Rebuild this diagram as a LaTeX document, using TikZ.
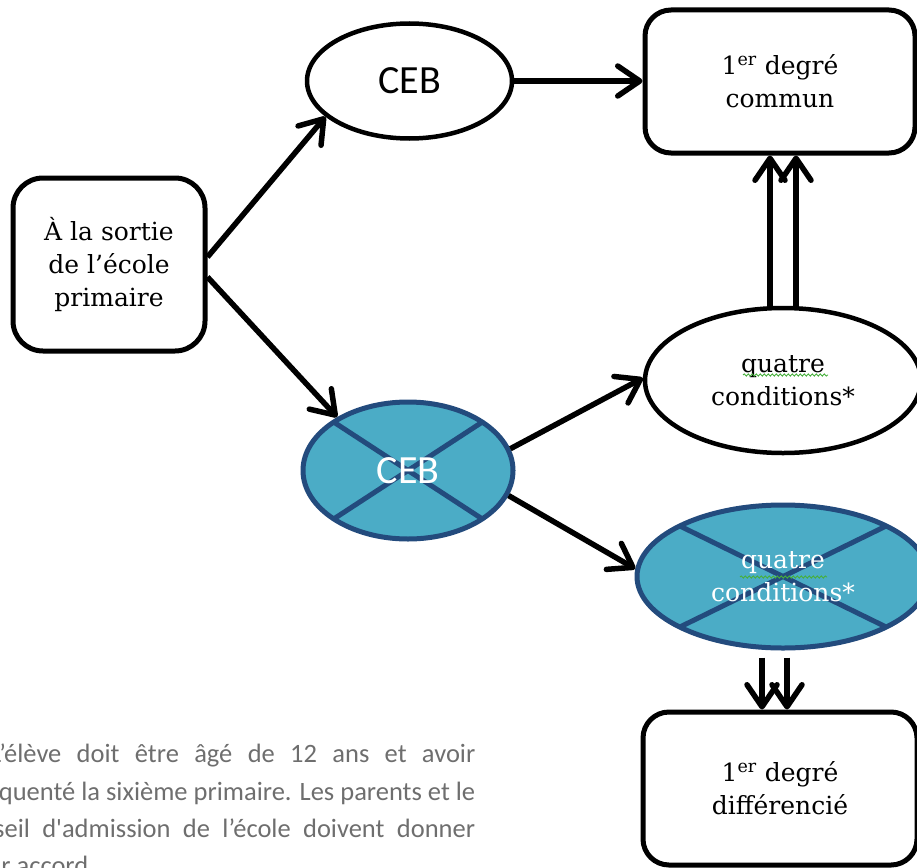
\documentclass[tikz,border=0pt]{standalone}
\usepackage{fontspec}
\setmainfont{DejaVu Serif}
\newfontfamily\carlitofam[Ligatures=TeXOff]{Carlito}
\usetikzlibrary{shapes.geometric,arrows.meta,decorations.pathmorphing,calc}
\definecolor{ebfill}{RGB}{75,172,198}
\definecolor{ebline}{RGB}{35,75,125}
\definecolor{fngray}{RGB}{110,110,110}
\definecolor{spell}{RGB}{70,175,60}
\newcommand\boxfont{\fontsize{25}{33}\selectfont}
\newcommand\cebfont{\carlitofam\fontsize{40}{44}\selectfont}
\newcommand\fnfont{\carlitofam\fontsize{26.5}{37.5}\selectfont}
\begin{document}
\begin{tikzpicture}[x=1pt,y=-1pt,
  box/.style={draw, line width=5pt, rounded corners=26pt, inner sep=0pt, align=center, font=\boxfont},
  oval/.style={ellipse, draw, line width=4.5pt, inner sep=0pt, align=center},
  crossed/.style={fill=ebfill, draw=ebline, text=white, line width=5pt,
    path picture={
      \draw[ebline, line width=5pt]
        ($(path picture bounding box.center)!0.7071!(path picture bounding box.north west)$) --
        ($(path picture bounding box.center)!0.7071!(path picture bounding box.south east)$)
        ($(path picture bounding box.center)!0.7071!(path picture bounding box.north east)$) --
        ($(path picture bounding box.center)!0.7071!(path picture bounding box.south west)$);
    }},
  arr/.style={line width=5.5pt, -{Straight Barb[round, length=22pt, width=30pt]}},
  wavy/.style={spell, line width=0.9pt, decorate, decoration={snake, amplitude=1.1pt, segment length=4pt}},
  fnline/.style={anchor=base west, inner sep=0pt, font=\fnfont, text=fngray}
]
\useasboundingbox (0,0) rectangle (917,867);
\clip (0,0) rectangle (917,867);

% nodes
\node[box, rounded corners=30pt, minimum width=192pt, minimum height=173pt] (start) at (109,264.5)
  {À la sortie\\de l’école\\primaire};
\node[oval, minimum width=205pt, minimum height=115pt, font=\cebfont] (ceb1) at (409.5,81) {CEB};
\node[box, minimum width=270pt, minimum height=143pt] (b1) at (780,81.5)
  {1\textsuperscript{er} degré\\commun};
\node[oval, crossed, minimum width=210pt, minimum height=137pt, font=\cebfont] (ceb2) at (408,470.5) {CEB};
\node[oval, minimum width=276pt, minimum height=145pt, font=\boxfont] (q1) at (783,380.5)
  {quatre\\conditions*};
\node[oval, crossed, minimum width=292pt, minimum height=143pt, font=\boxfont] (q2) at (783,576.5)
  {quatre\\conditions*};
\node[box, minimum width=274pt, minimum height=153pt] (b2) at (780,788.5)
  {1\textsuperscript{er} degré\\différencié};

% spelling underlines
\draw[wavy] (743,375) -- (828,375);
\draw[wavy] (740,577) -- (827,577);

% connectors
\draw[arr] ([yshift=7.5pt]start.east) -- (ceb1.203);
\draw[arr] ([yshift=-12.5pt]start.east) -- (ceb2.143);
\draw[arr] (ceb1.east) -- (ceb1.east -| b1.west);
\draw[arr] (ceb2.12) -- (q1.179);
\draw[arr] (ceb2.346) -- (q2.177);
\draw[arr] ([xshift=-13pt]q1.north) -- ([xshift=-13pt]q1.north |- b1.south);
\draw[arr] ([xshift=13pt]q1.north) -- ([xshift=13pt]q1.north |- b1.south);
\draw[arr] ([xshift=-21pt,yshift=-7pt]q2.south) -- ([xshift=-21pt]q2.south |- b2.north);
\draw[arr] ([xshift=4pt,yshift=-7pt]q2.south) -- ([xshift=4pt]q2.south |- b2.north);

% footnote
\node[fnline] (fn1) at (-10,762) {\makebox[485pt][s]{L’élève doit être âgé de 12 ans et avoir}};
\node[fnline] (fn2) at (-31.5,800) {\makebox[506.5pt][s]{fréquenté la sixième primaire. Les parents et le}};
\node[fnline] (fn3) at (-48,837) {\makebox[523pt][s]{Conseil d'admission de l’école doivent donner}};
\node[fnline] (fn4) at (-32,874) {leur accord.};
\end{tikzpicture}
\end{document}
